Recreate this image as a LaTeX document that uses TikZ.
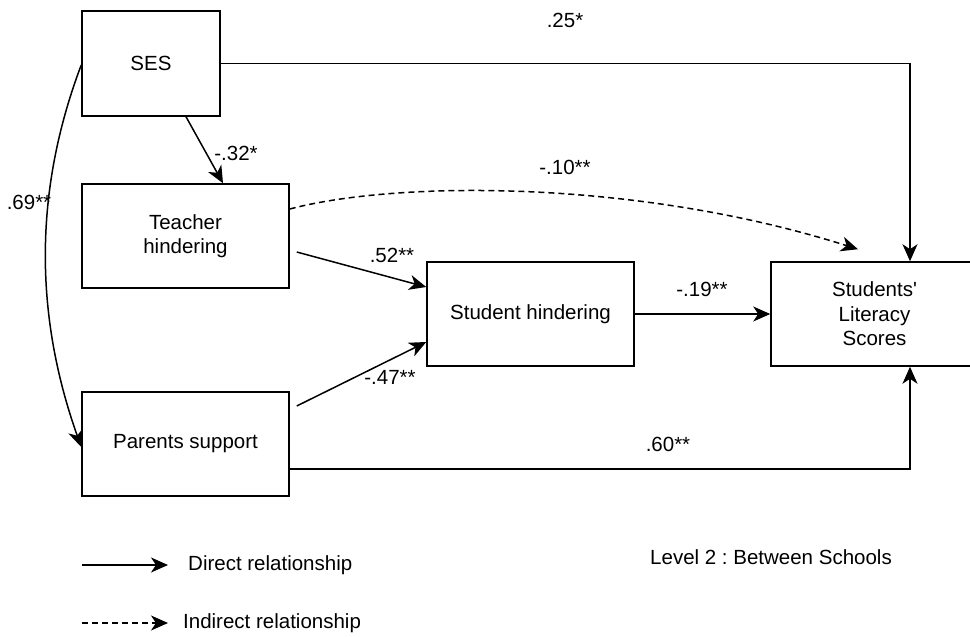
\documentclass[tikz,border=0pt]{standalone}
\usepackage{fontspec}
\setmainfont{Liberation Sans}
\usetikzlibrary{arrows.meta,calc}
\frenchspacing
\begin{document}
\begin{tikzpicture}[x=1pt,y=-1pt,
  font=\fontsize{20.5}{24.5}\selectfont,
  box/.style={draw, line width=1.5pt, minimum width=207pt, minimum height=104pt, inner sep=0pt, align=center},
  arr/.style={line width=1.5pt, -{Stealth[length=17pt,width=15pt,inset=5pt]}},
  dasharr/.style={arr, dash pattern=on 6pt off 4pt},
  lbl/.style={inner sep=0pt}
]
\useasboundingbox (0,0) rectangle (970,637);
\fill[white] (0,0) rectangle (970,637);

% boxes
\node[box, minimum width=138pt, minimum height=105pt] (ses) at (151,63.5) {SES};
\node[box] (tea) at (185.5,236) {Teacher\\hindering};
\node[box] (par) at (185.5,444) {Parents support};
\node[box] (stu) at (530.5,314) {Student hindering};
\node[box] (lit) at (874.5,314) {Students\textquotesingle\\Literacy\\Scores};

% connectors
\draw[arr] (ses.east) -| ([shift={(35.5,0)}]lit.north);
\draw[arr] ([shift={(35,0)}]ses.south) -- ([shift={(37.5,0)}]tea.north);
\draw[dasharr] ([shift={(0,-27)}]tea.east) .. controls (400,180) and (640,180) .. ([shift={(-16.5,-12)}]lit.north);
\draw[arr] ([shift={(7,16)}]tea.east) -- ([shift={(0,-27)}]stu.west);
\draw[arr] ([shift={(7,-38)}]par.east) -- ([shift={(0,28)}]stu.west);
\draw[arr] (stu.east) -- (lit.west);
\draw[arr] ([shift={(0,25)}]par.east) -| ([shift={(35.5,0)}]lit.south);
\draw[arr] ([shift={(0,1.5)}]ses.west) .. controls (34,190) and (34,314) .. ([shift={(0,3)}]par.west);

% labels
\node[lbl] (l25) at (565,20) {.25*};
\node[lbl] (l32) at (236,153) {-.32*};
\node[lbl] (l10) at (565,167) {-.10**};
\node[lbl] (l69) at (29,202) {.69**};
\node[lbl] (l52) at (392,255) {.52**};
\node[lbl] (l47) at (390,377) {-.47**};
\node[lbl] (l19) at (702,289) {-.19**};
\node[lbl] (l60) at (668,444) {.60**};

% legend
\coordinate (d1) at (82,565);
\coordinate (d2) at (168,565);
\draw[arr] (d1) -- (d2);
\node[lbl, anchor=west] (dtxt) at (188,565) {Direct relationship};
\coordinate (i1) at (82,623);
\coordinate (i2) at (168,623);
\draw[dasharr] (i1) -- (i2);
\node[lbl, anchor=west] (itxt) at (183,623) {Indirect relationship};
\node[lbl, anchor=west] (lvl) at (650,557) {Level 2 : Between Schools};
\end{tikzpicture}
\end{document}
